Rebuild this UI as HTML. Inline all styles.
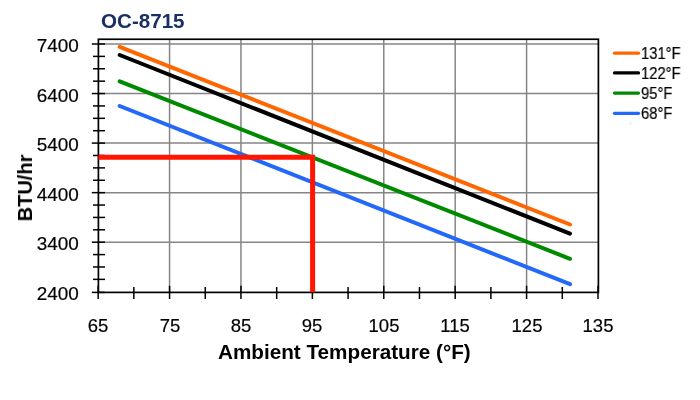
<!DOCTYPE html>
<html><head><meta charset="utf-8"><style>
html,body{margin:0;padding:0;background:#fff;}
body{width:700px;height:400px;position:relative;overflow:hidden;font-family:"Liberation Sans",sans-serif;}
svg{position:absolute;left:0;top:0;}
.t{position:absolute;white-space:nowrap;line-height:1;color:#000;will-change:transform;}
.yl{left:0;width:78.8px;text-align:right;font-size:18.9px;-webkit-text-stroke:0.2px #000;}
.xl{width:60px;text-align:center;font-size:18.5px;-webkit-text-stroke:0.2px #000;}
.lg{font-size:15.7px;-webkit-text-stroke:0.2px #000;transform:scaleX(0.94);transform-origin:0 0;}
#ylab{left:25.4px;top:188px;transform:translate(-50%,-50%) rotate(-90deg);}
</style></head><body>
<svg width="700" height="400" viewBox="0 0 700 400">
<line x1="169.56" y1="39.25" x2="169.56" y2="292.4" stroke="#858585" stroke-width="1.5"/>
<line x1="240.96" y1="39.25" x2="240.96" y2="292.4" stroke="#858585" stroke-width="1.5"/>
<line x1="312.37" y1="39.25" x2="312.37" y2="292.4" stroke="#858585" stroke-width="1.5"/>
<line x1="383.78" y1="39.25" x2="383.78" y2="292.4" stroke="#858585" stroke-width="1.5"/>
<line x1="455.19" y1="39.25" x2="455.19" y2="292.4" stroke="#858585" stroke-width="1.5"/>
<line x1="526.59" y1="39.25" x2="526.59" y2="292.4" stroke="#858585" stroke-width="1.5"/>
<line x1="98.4" y1="242.20" x2="598.4" y2="242.20" stroke="#858585" stroke-width="1.5"/>
<line x1="98.4" y1="192.65" x2="598.4" y2="192.65" stroke="#858585" stroke-width="1.5"/>
<line x1="98.4" y1="143.10" x2="598.4" y2="143.10" stroke="#858585" stroke-width="1.5"/>
<line x1="98.4" y1="93.55" x2="598.4" y2="93.55" stroke="#858585" stroke-width="1.5"/>
<line x1="98.4" y1="44.00" x2="598.4" y2="44.00" stroke="#858585" stroke-width="1.5"/>
<line x1="91.8" y1="292.40" x2="105" y2="292.40" stroke="#000" stroke-width="1.5"/>
<line x1="93.0" y1="279.36" x2="105" y2="279.36" stroke="#000" stroke-width="1.5"/>
<line x1="93.0" y1="266.98" x2="105" y2="266.98" stroke="#000" stroke-width="1.5"/>
<line x1="93.0" y1="254.59" x2="105" y2="254.59" stroke="#000" stroke-width="1.5"/>
<line x1="91.8" y1="242.20" x2="105" y2="242.20" stroke="#000" stroke-width="1.5"/>
<line x1="93.0" y1="229.81" x2="105" y2="229.81" stroke="#000" stroke-width="1.5"/>
<line x1="93.0" y1="217.43" x2="105" y2="217.43" stroke="#000" stroke-width="1.5"/>
<line x1="93.0" y1="205.04" x2="105" y2="205.04" stroke="#000" stroke-width="1.5"/>
<line x1="91.8" y1="192.65" x2="105" y2="192.65" stroke="#000" stroke-width="1.5"/>
<line x1="93.0" y1="180.26" x2="105" y2="180.26" stroke="#000" stroke-width="1.5"/>
<line x1="93.0" y1="167.88" x2="105" y2="167.88" stroke="#000" stroke-width="1.5"/>
<line x1="93.0" y1="155.49" x2="105" y2="155.49" stroke="#000" stroke-width="1.5"/>
<line x1="91.8" y1="143.10" x2="105" y2="143.10" stroke="#000" stroke-width="1.5"/>
<line x1="93.0" y1="130.71" x2="105" y2="130.71" stroke="#000" stroke-width="1.5"/>
<line x1="93.0" y1="118.33" x2="105" y2="118.33" stroke="#000" stroke-width="1.5"/>
<line x1="93.0" y1="105.94" x2="105" y2="105.94" stroke="#000" stroke-width="1.5"/>
<line x1="91.8" y1="93.55" x2="105" y2="93.55" stroke="#000" stroke-width="1.5"/>
<line x1="93.0" y1="81.16" x2="105" y2="81.16" stroke="#000" stroke-width="1.5"/>
<line x1="93.0" y1="68.78" x2="105" y2="68.78" stroke="#000" stroke-width="1.5"/>
<line x1="93.0" y1="56.39" x2="105" y2="56.39" stroke="#000" stroke-width="1.5"/>
<line x1="91.8" y1="44.00" x2="105" y2="44.00" stroke="#000" stroke-width="1.5"/>
<line x1="98.15" y1="285.8" x2="98.15" y2="299" stroke="#000" stroke-width="1.5"/>
<line x1="133.85" y1="287.0" x2="133.85" y2="299" stroke="#000" stroke-width="1.5"/>
<line x1="169.56" y1="285.8" x2="169.56" y2="299" stroke="#000" stroke-width="1.5"/>
<line x1="205.26" y1="287.0" x2="205.26" y2="299" stroke="#000" stroke-width="1.5"/>
<line x1="240.96" y1="285.8" x2="240.96" y2="299" stroke="#000" stroke-width="1.5"/>
<line x1="276.67" y1="287.0" x2="276.67" y2="299" stroke="#000" stroke-width="1.5"/>
<line x1="312.37" y1="285.8" x2="312.37" y2="299" stroke="#000" stroke-width="1.5"/>
<line x1="348.08" y1="287.0" x2="348.08" y2="299" stroke="#000" stroke-width="1.5"/>
<line x1="383.78" y1="285.8" x2="383.78" y2="299" stroke="#000" stroke-width="1.5"/>
<line x1="419.48" y1="287.0" x2="419.48" y2="299" stroke="#000" stroke-width="1.5"/>
<line x1="455.19" y1="285.8" x2="455.19" y2="299" stroke="#000" stroke-width="1.5"/>
<line x1="490.89" y1="287.0" x2="490.89" y2="299" stroke="#000" stroke-width="1.5"/>
<line x1="526.59" y1="285.8" x2="526.59" y2="299" stroke="#000" stroke-width="1.5"/>
<line x1="562.30" y1="287.0" x2="562.30" y2="299" stroke="#000" stroke-width="1.5"/>
<line x1="598.00" y1="285.8" x2="598.00" y2="299" stroke="#000" stroke-width="1.5"/>
<rect x="98.4" y="39.25" width="500.0" height="253.14999999999998" fill="none" stroke="#000" stroke-width="1.7"/>
<line x1="119.7" y1="46.8" x2="570" y2="224.5" stroke="#ff6600" stroke-width="4" stroke-linecap="round"/>
<line x1="119.7" y1="55.0" x2="570" y2="233.6" stroke="#000000" stroke-width="4" stroke-linecap="round"/>
<line x1="119.7" y1="81.4" x2="570" y2="258.8" stroke="#008a00" stroke-width="4" stroke-linecap="round"/>
<line x1="119.7" y1="106.0" x2="570" y2="284.2" stroke="#2468fa" stroke-width="4" stroke-linecap="round"/>
<polyline points="98.4,157.2 312.6,157.2 312.6,292.3" fill="none" stroke="#ff1500" stroke-width="5" stroke-linejoin="miter"/>
<line x1="614.5" y1="53.2" x2="638.5" y2="53.2" stroke="#ff6600" stroke-width="3.3" stroke-linecap="round"/>
<line x1="614.5" y1="72.9" x2="638.5" y2="72.9" stroke="#000000" stroke-width="3.3" stroke-linecap="round"/>
<line x1="614.5" y1="93.1" x2="638.5" y2="93.1" stroke="#008a00" stroke-width="3.3" stroke-linecap="round"/>
<line x1="614.5" y1="113.3" x2="638.5" y2="113.3" stroke="#2468fa" stroke-width="3.3" stroke-linecap="round"/>
<circle cx="630.4" cy="123.4" r="0.7" fill="#d0d0d0"/>
</svg>
<div class="t" style="left:100.6px;top:10.8px;font-size:20.6px;font-weight:bold;color:#1a2f62">OC-8715</div>
<div class="t yl" style="top:284.95px;">2400</div>
<div class="t yl" style="top:235.40px;">3400</div>
<div class="t yl" style="top:185.85px;">4400</div>
<div class="t yl" style="top:136.30px;">5400</div>
<div class="t yl" style="top:86.75px;">6400</div>
<div class="t yl" style="top:37.20px;">7400</div>
<div class="t xl" style="left:68.15px;top:317.25px;">65</div>
<div class="t xl" style="left:139.56px;top:317.25px;">75</div>
<div class="t xl" style="left:210.96px;top:317.25px;">85</div>
<div class="t xl" style="left:282.37px;top:317.25px;">95</div>
<div class="t xl" style="left:353.78px;top:317.25px;">105</div>
<div class="t xl" style="left:425.19px;top:317.25px;">115</div>
<div class="t xl" style="left:496.59px;top:317.25px;">125</div>
<div class="t xl" style="left:568.00px;top:317.25px;">135</div>
<div class="t lg" style="left:641px;top:45.90px;">131°F</div>
<div class="t lg" style="left:641px;top:65.60px;">122°F</div>
<div class="t lg" style="left:641px;top:85.60px;">95°F</div>
<div class="t lg" style="left:641px;top:105.60px;">68°F</div>
<div class="t" id="ylab" style="font-size:20px;font-weight:bold;">BTU/hr</div>
<div class="t" id="xlab" style="left:218px;top:342px;font-size:20.7px;font-weight:bold;">Ambient Temperature (°F)</div>
</body></html>
